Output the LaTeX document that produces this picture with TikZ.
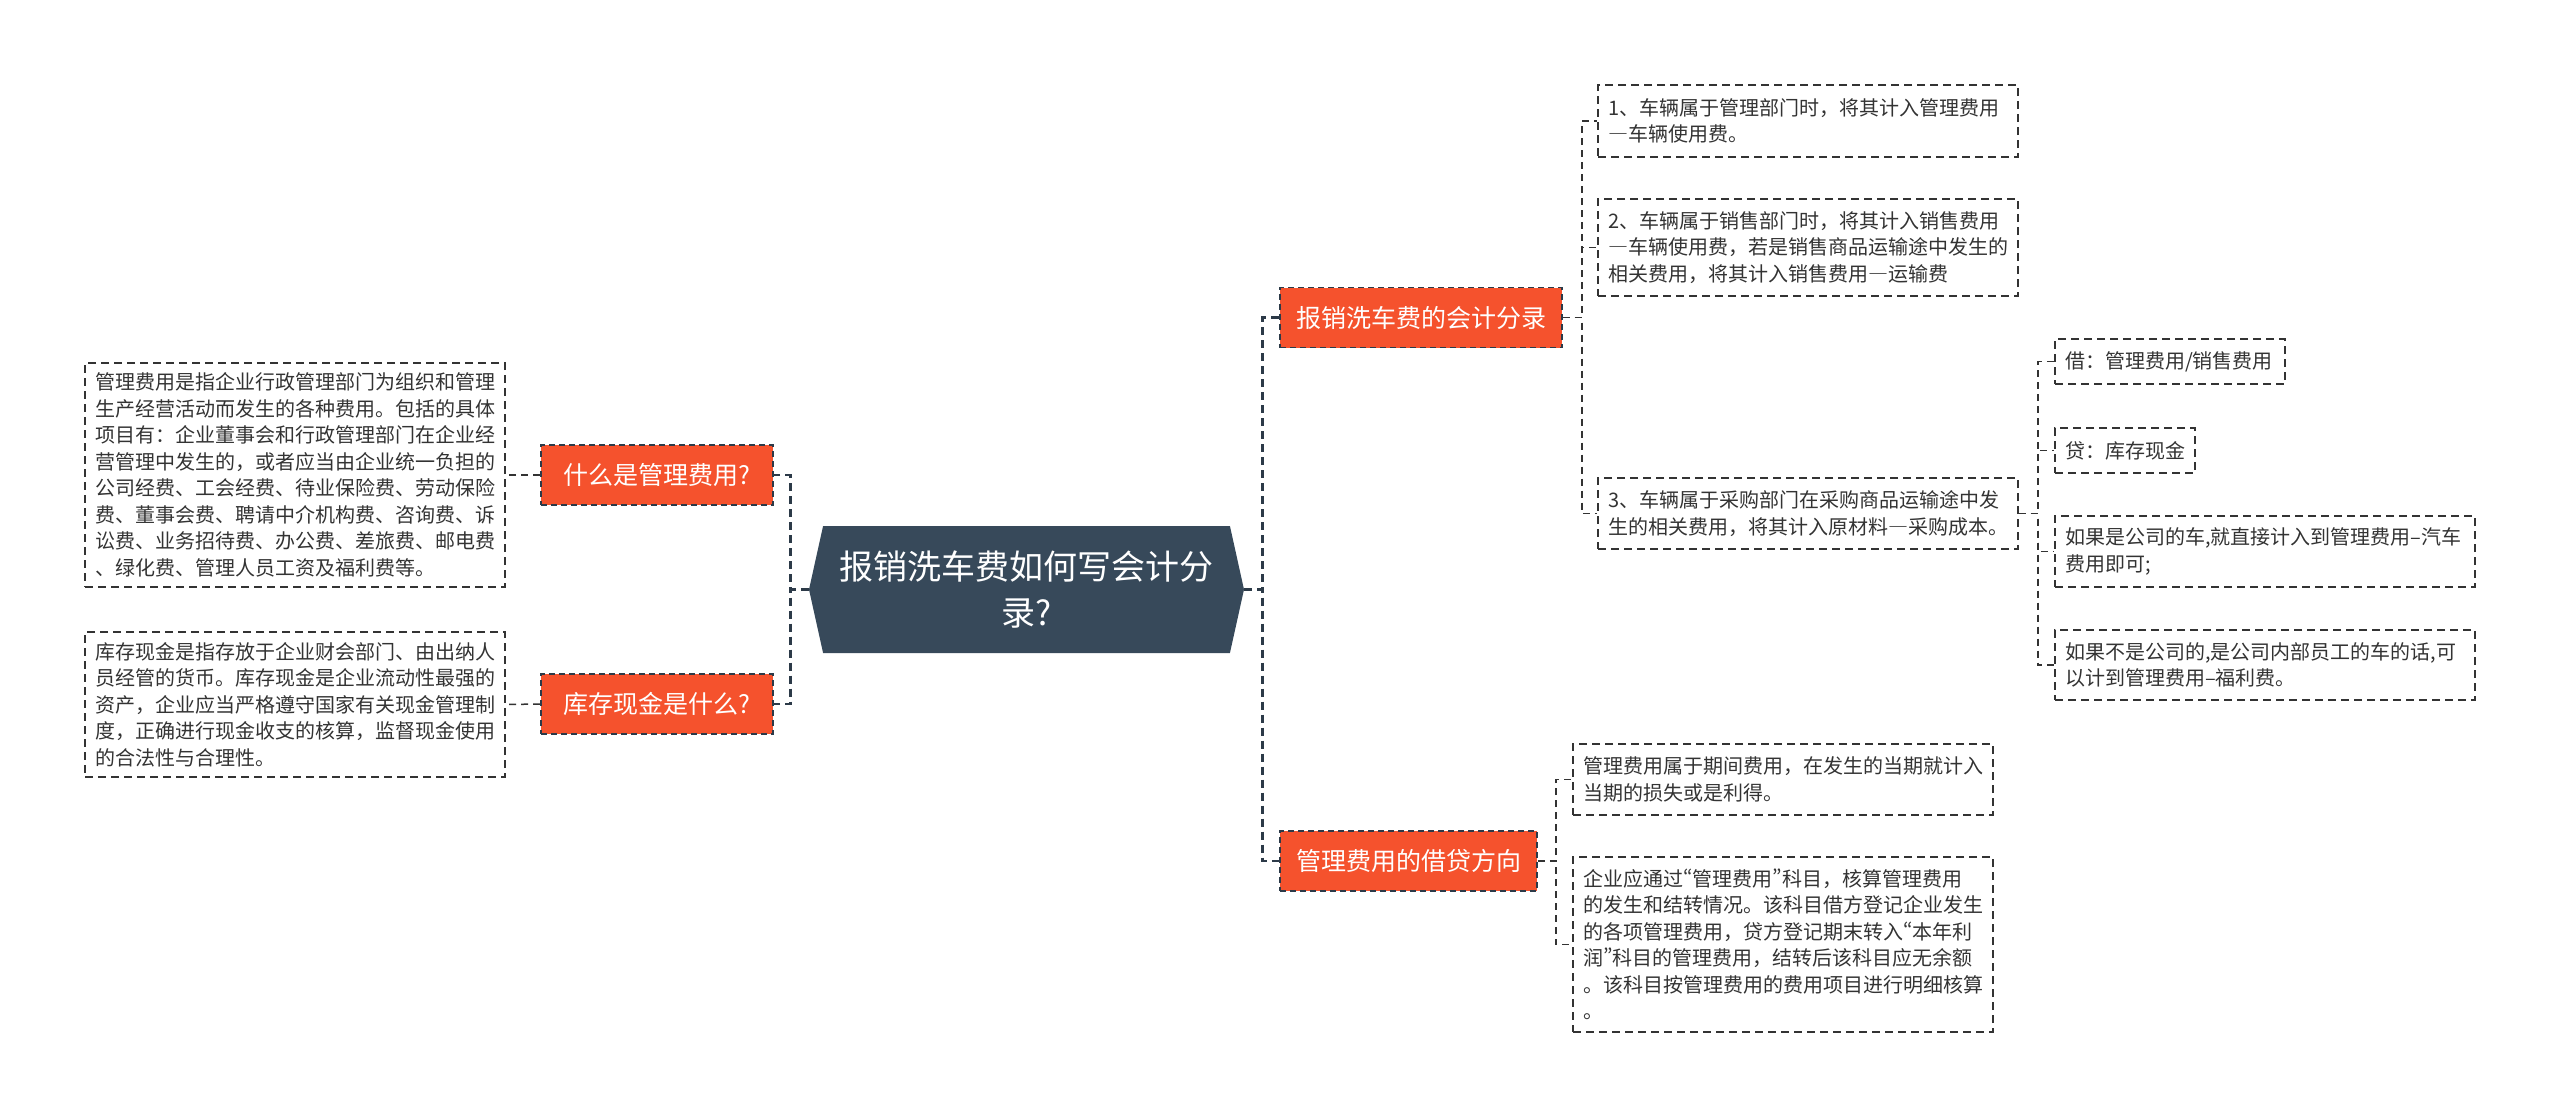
\documentclass[tikz,border=0pt]{standalone}
\usepackage{fontspec}
\setmainfont{Noto Sans CJK SC}
\usetikzlibrary{shapes.symbols}

\definecolor{rootfill}{RGB}{55,73,90}
\definecolor{topicfill}{RGB}{245,82,45}
\definecolor{lineink}{RGB}{44,58,72}
\definecolor{leafink}{RGB}{51,51,51}

\newcommand{\wdash}{{\addfontfeatures{RawFeature=+fwid}—}}
\newcommand{\openq}{{\addfontfeatures{RawFeature=+pwid}“}}
\newcommand{\closeq}{{\addfontfeatures{RawFeature=+pwid}”}}

\tikzset{every picture/.style={line width=0.9pt}}

\begin{document}
\begin{tikzpicture}[x=1pt,y=1pt,yscale=-1,
  rootnode/.style={shape=signal, signal to=west and east, signal pointer angle=155,
    fill=rootfill, text=white, align=center, inner sep=0pt,
    minimum width=435, minimum height=127, font=\fontsize{34}{46}\selectfont},
  topicbox/.style={fill=topicfill, draw=lineink, line width=1.6, dash pattern=on 6pt off 4pt,
    text=white, inner sep=0pt, minimum height=60, font=\fontsize{25}{30}\selectfont},
  leafbox/.style={draw=leafink, line width=1.6, dash pattern=on 8pt off 5pt, text=leafink,
    align=left, inner xsep=10, inner ysep=0pt, font=\fontsize{20}{26.5}\selectfont},
  mainline/.style={draw=lineink, line width=2.7, dash pattern=on 8pt off 5pt},
  leafline/.style={draw=leafink, line width=1.5, dash pattern=on 7pt off 5pt}]
\useasboundingbox (0,0) rectangle (2560,1117);

% Root Node
\node (root) at (1026.5,589.5) [rootnode] {报销洗车费如何写会计分\\录?};

% Topic Nodes
\node (q1) at (657,475) [topicbox, minimum width=232] {什么是管理费用?};
\node (q2) at (657,704) [topicbox, minimum width=232] {库存现金是什么?};
\node (r1) at (1421,317.5) [topicbox, minimum width=282] {报销洗车费的会计分录};
\node (r2) at (1408.5,861) [topicbox, minimum width=257] {管理费用的借贷方向};

% Text Node
\node (d1) at (295,475) [leafbox, text width=400, minimum height=224] {管理费用是指企业行政管理部门为组织和管理\\生产经营活动而发生的各种费用。包括的具体\\项目有：企业董事会和行政管理部门在企业经\\营管理中发生的，或者应当由企业统一负担的\\公司经费、工会经费、待业保险费、劳动保险\\费、董事会费、聘请中介机构费、咨询费、诉\\讼费、业务招待费、办公费、差旅费、邮电费\\、绿化费、管理人员工资及福利费等。};
% Text Node
\node (d2) at (295,704.5) [leafbox, text width=400, minimum height=145] {库存现金是指存放于企业财会部门、由出纳人\\员经管的货币。库存现金是企业流动性最强的\\资产，企业应当严格遵守国家有关现金管理制\\度，正确进行现金收支的核算，监督现金使用\\的合法性与合理性。};
% Text Node
\node (e1) at (1808,121) [leafbox, text width=400, minimum height=72] {1、车辆属于管理部门时，将其计入管理费用\\\wdash 车辆使用费。};
% Text Node
\node (e2) at (1808,247.5) [leafbox, text width=400, minimum height=97] {2、车辆属于销售部门时，将其计入销售费用\\\wdash 车辆使用费，若是销售商品运输途中发生的\\相关费用，将其计入销售费用\wdash 运输费};
% Text Node
\node (e3) at (1808,513.5) [leafbox, text width=400, minimum height=71] {3、车辆属于采购部门在采购商品运输途中发\\生的相关费用，将其计入原材料\wdash 采购成本。};
% Text Node
\node (f1) at (2170,361.5) [leafbox, text width=210, minimum height=45] {借：管理费用/销售费用};
% Text Node
\node (f2) at (2125,450.5) [leafbox, text width=120, minimum height=45] {贷：库存现金};
% Text Node
\node (f3) at (2265,551.5) [leafbox, text width=400, minimum height=71] {如果是公司的车,就直接计入到管理费用–汽车\\费用即可;};
% Text Node
\node (f4) at (2265,665) [leafbox, text width=400, minimum height=70] {如果不是公司的,是公司内部员工的车的话,可\\以计到管理费用–福利费。};
% Text Node
\node (g1) at (1783,779.5) [leafbox, text width=400, minimum height=71] {管理费用属于期间费用，在发生的当期就计入\\当期的损失或是利得。};
% Text Node
\node (g2) at (1783,944.5) [leafbox, text width=400, minimum height=175] {企业应通过\openq 管理费用\closeq 科目，核算管理费用\\的发生和结转情况。该科目借方登记企业发生\\的各项管理费用，贷方登记期末转入\openq 本年利\\润\closeq 科目的管理费用，结转后该科目应无余额\\。该科目按管理费用的费用项目进行明细核算\\。};

%Straight Lines
\draw [mainline] (root.west) -- ++(-18,0) |- (q1.east);
\draw [mainline] (root.west) -- ++(-18,0) |- (q2.east);
\draw [mainline] (root.east) -- ++(18,0) |- (r1.west);
\draw [mainline] (root.east) -- ++(18,0) |- (r2.west);
%Straight Lines
\draw [leafline] (q1.west) -- (d1.east);
\draw [leafline] (q2.west) -- (d2.east);
\foreach \leaf in {e1,e2,e3}
  \draw [leafline] (r1.east) -- ++(19,0) |- (\leaf.west);
\foreach \leaf in {f1,f2,f3,f4}
  \draw [leafline] (e3.east) -- ++(19,0) |- (\leaf.west);
\foreach \leaf in {g1,g2}
  \draw [leafline] (r2.east) -- ++(18,0) |- (\leaf.west);
\end{tikzpicture}
\end{document}
